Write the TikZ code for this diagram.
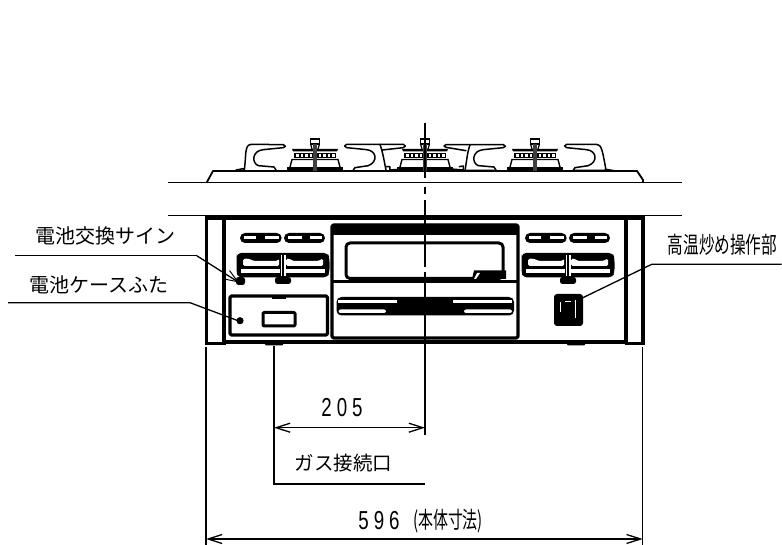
\documentclass[tikz,border=0pt]{standalone}
\usepackage{fontspec}
\newfontfamily\cjk{Noto Sans CJK JP}
\newfontfamily\dimfont{Liberation Sans}
\usetikzlibrary{arrows.meta}
\tikzset{
  thinl/.style={line width=1.3pt,black},
  heavy/.style={line width=3.3pt,black,line cap=round,line join=round},
  mid/.style={line width=1.8pt,black,line join=round,line cap=round},
  grate/.style={line width=1.5pt,black,line join=round,line cap=round},
  label/.style={inner sep=0pt,font=\cjk\fontsize{20}{20}\selectfont,text=black},
  narrow/.style={inner sep=0pt,font=\cjk\fontsize{23}{23}\selectfont,text=black,xscale=.68,transform shape},
  narrowb/.style={inner sep=0pt,font=\cjk\fontsize{23}{23}\selectfont,text=black,xscale=.65,transform shape},
  digits/.style={inner sep=0pt,font=\dimfont\fontsize{26}{26}\selectfont,xscale=.72,transform shape,text=black},
  dimarrow/.style={thinl,{Straight Barb[length=14pt,width=9pt,line width=1.3pt]}-{Straight Barb[length=14pt,width=9pt,line width=1.3pt]}},
  leadarrow/.style={thinl,-{Straight Barb[length=13pt,width=10pt,line width=1pt]}},
}
\newcommand{\burner}[1]{%
  \begin{scope}[shift={(#1,0)}]
    \draw[line width=1.2pt] (-4.5,139) rectangle (4.5,144);
    \draw[line width=1.2pt] (-4.5,144) -- (-3,149) (4.5,144) -- (3,149);
    \fill (-23,149) -- (23,149) -- (22,151.5) -- (-22,151.5) -- cycle;
    \fill (-21,153) rectangle (21,158.5);
    \foreach \q in {-19,-14.5,-10,-5.5,3.5,8,12.5,17}{\fill[white] (\q,154) rectangle +(2.8,3.5);}
    \draw[line width=1.4pt,line join=round] (-25,167) -- (-23,159.5) -- (23,159.5) -- (25,167);
    \fill (-28,167.5) rectangle (28,170.5);
    \fill[black!75] (-2,144) rectangle (2,171);
  \end{scope}}
\newcommand{\pillpair}[1]{%
  \begin{scope}[shift={(#1,0)}]
    \fill[rounded corners=5pt] (240,233) rectangle (281.7,243);
    \fill[rounded corners=5pt] (284,233) rectangle (325,243);
    \fill[white] (243.5,236.5) rectangle (256,239.5);
    \fill[white] (265,236.5) rectangle (278.5,239.5);
    \fill[white] (287.5,236.5) rectangle (301.5,239.5);
    \fill[white] (310,236.5) rectangle (321.5,239.5);
    % knob
    \fill[rounded corners=4pt] (237,253) -- (328,253) -- (329.5,258) -- (329.5,273) -- (327,277.5) -- (238,277.5) -- (236.5,272) -- (236.5,258) -- cycle;
    \fill[white,rounded corners=1.5pt] (243,259) -- (248,258.5) -- (254,261) -- (277.5,261) -- (279,258.5) -- (279,266) -- (243,266) -- cycle;
    \fill[white,rounded corners=1.5pt] (286,259) -- (289,258.5) -- (293,261) -- (318,261) -- (323,258.5) -- (323,266) -- (286,266) -- cycle;
    \fill[white] (241,269) rectangle (279.5,273);
    \fill[white] (286,269) rectangle (325,273);
    \fill[white] (281,255) rectangle (282.3,276);
    \fill[white] (284.2,255) rectangle (285.5,276);
    \fill[rounded corners=2.5pt] (275,277) rectangle (291,284);
  \end{scope}}
\begin{document}
\begin{tikzpicture}[x=1pt,y=-1pt]
\useasboundingbox (0,0) rectangle (782,545);
\fill[white] (0,0) rectangle (782,545);

% ---- top elevation
\draw[thinl] (168,182.5) -- (682,182.5);
\draw[thinl] (168,215.5) -- (682,215.5);
\draw[mid] (207,182) -- (213,171) -- (637,171) -- (643,180) -- (643,182);
\burner{315}\burner{425}\burner{535}

\begin{scope}[shift={(200,120)},x=.3333pt,y=-.3333pt]
  \draw[grate] (108,150) -- (130,146) -- (133,150) .. controls (137,120) and (136,95) .. (140,85) .. controls (143,75) and (148,73) .. (160,73) -- (250,74) -- (256,79) -- (250,83) -- (190,89) .. controls (155,92) and (155,130) .. (175,137) -- (222,141) -- (228,150);
  \draw[grate] (133,151) -- (228,151);
  \draw[grate] (460,150) -- (465,143) -- (505,137) .. controls (535,125) and (530,92) .. (500,89) -- (440,83) -- (434,78) -- (440,73) -- (540,73) .. controls (548,95) and (553,125) .. (558,150);
  \draw[grate] (460,151) -- (558,151);
  \draw[grate] (547,90) -- (610,83) -- (616,78) -- (610,73) -- (540,73);
  \draw[grate] (558,140) -- (570,140) -- (570,150) -- (600,148);
\end{scope}
\begin{scope}[shift={(420,120)},x=.3333pt,y=-.3333pt]
  \draw[grate] (78,82) -- (72,78) -- (78,74) -- (160,74) -- (250,74) -- (256,79) -- (250,83) -- (190,89) .. controls (155,92) and (155,130) .. (175,137) -- (222,141) -- (228,150);
  \draw[grate] (78,82) -- (138,92);
  \draw[grate] (150,75) .. controls (142,95) and (140,125) .. (135,151) -- (228,151);
  \draw[grate] (118,140) -- (130,138) -- (130,150) -- (80,146);
  \draw[grate] (460,150) -- (465,143) -- (505,137) .. controls (535,125) and (530,92) .. (500,89) -- (440,83) -- (434,78) -- (440,73) -- (530,73) .. controls (545,73) and (548,95) .. (558,150);
  \draw[grate] (460,151) -- (558,151) (556,148) -- (582,152);
\end{scope}

% ---- front body
\draw[line width=5pt] (205,217.3) -- (645,217.3);
\draw[line width=3pt] (206,217) -- (206,344.5);
\draw[line width=4pt] (224,215) -- (224,344.5);
\draw[line width=3pt] (205,344) -- (226,344);
\draw[line width=4pt] (224,341.7) -- (626,341.7);
\draw[line width=3.5pt] (626,215) -- (626,344);
\draw[line width=3.5pt] (643,217) -- (643,344);
\draw[line width=3pt] (625,343.5) -- (645,343.5);
\fill[rounded corners=1pt] (265,342) rectangle (283,345.5);
\fill[rounded corners=1pt] (567,342) rectangle (585,345.5);

\pillpair{0}
\pillpair{285}
\fill[rounded corners=2.5pt] (236,277) rectangle (245,285);

% centre panel
\draw[heavy,rounded corners=2pt] (332,338) -- (332,225) -- (518,225) -- (518,338) -- cycle;
\fill[rounded corners=2pt] (332,224) rectangle (518,235);
\draw[line width=3pt,line join=round,rounded corners=4pt] (346,278.5) -- (346,243) -- (503,243) -- (503,278.5) -- cycle;
\draw[line width=3pt] (332,282) -- (518,282);
\fill (474,270.5) -- (506,270.5) -- (506,279) -- (472,279) -- cycle;
\fill[white] (477,273) -- (480,273) -- (476,279) -- (474,279) -- cycle;
% lower strip
\fill[rounded corners=5pt] (336.5,297) rectangle (514,315.5);
\fill[white] (338,300) rectangle (512,303);
\fill[white,rounded corners=2pt] (338.5,309.5) rectangle (386,313);
\fill[white,rounded corners=2pt] (464,309.5) rectangle (512,313);
\fill (397,299) rectangle (453,304);

% battery cover
\draw[line width=3.3pt,line join=round,rounded corners=1.5pt] (230,296) rectangle (327.5,335);
\draw[line width=3pt,line join=round,rounded corners=1pt] (263,312.5) rectangle (295,326);
\draw[line width=2pt] (272,298) -- (286,298);
\fill (240,320.7) circle (3.6pt);

% high temperature switch
\fill[rounded corners=3pt] (554,294) rectangle (583,326);
\fill[white] (560,302) rectangle (561,312);
\fill[white] (565,301) rectangle (571,302.2);
\fill[white] (575,300) rectangle (576.2,318);

% ---- centre line
\draw[line width=1.3pt] (425,123) -- (425,178) (425,187) -- (425,194) (425,200) -- (425,267) (425,272) -- (425,435);

% ---- labels
\node[label,anchor=center] (sign) at (105.5,236) {電池交換サイン};
\node[label,anchor=center] (cover) at (99,285) {電池ケースふた};
\node[narrow,anchor=center] (high) at (722.5,245) {高温炒め操作部};
\node[label,anchor=center,font=\cjk\fontsize{19.5}{20}\selectfont] (gas) at (343.5,463) {ガス接続口};
\node[digits,anchor=center] (dimA) at (342,408) {2\hspace{7pt}0\hspace{7pt}5};
\node[digits,anchor=center] (dimB) at (379,521) {5\hspace{7pt}9\hspace{7pt}6};
\node[narrowb,anchor=center] (body) at (448,521) {(本体寸法)};

% ---- leaders
\coordinate (s0) at (15,255.7);
\coordinate (s1) at (196.7,255.7);
\coordinate (s2) at (239,282.5);
\coordinate (c0) at (8,302.7);
\coordinate (c1) at (190,302.7);
\coordinate (c2) at (238,320.7);
\coordinate (h0) at (781.5,264.3);
\coordinate (h1) at (651.7,264.3);
\coordinate (h2) at (581.7,298.3);
\draw[thinl] (s0) -- (s1);
\draw[leadarrow] (s1) -- (s2);
\draw[thinl] (c0) -- (c1) -- (c2);
\draw[thinl] (h0) -- (h1) -- (h2);

% ---- dimensions
\coordinate (a0) at (274,346);
\coordinate (a1) at (274,484);
\coordinate (a2) at (425,484);
\coordinate (a3) at (274,427.7);
\coordinate (a4) at (425,427.7);
\draw[thinl] (a0) -- (a1) -- (a2);
\draw[dimarrow] (a3) -- (a4);
\coordinate (b0) at (206,347);
\coordinate (b1) at (206,545);
\coordinate (b2) at (642.7,347);
\coordinate (b3) at (642.7,545);
\coordinate (b4) at (206,539);
\coordinate (b5) at (642.7,539);
\draw[thinl] (b0) -- (b1);
\draw[thinl] (b2) -- (b3);
\draw[dimarrow] (b4) -- (b5);
\end{tikzpicture}
\end{document}
